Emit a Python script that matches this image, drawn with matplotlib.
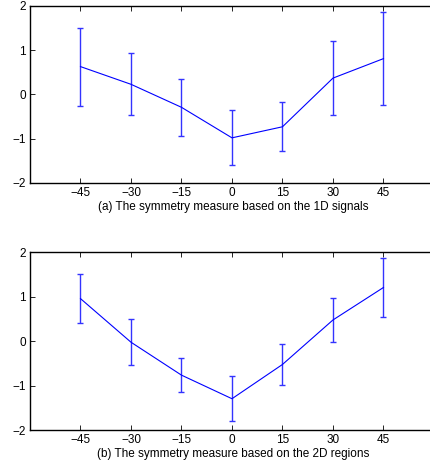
import matplotlib
matplotlib.use("Agg")
import matplotlib.pyplot as plt

angles = [-45, -30, -15, 0, 15, 30, 45]
mean_1d = [0.63, 0.23, -0.29, -0.98, -0.73, 0.37, 0.81]
err_1d = [0.88, 0.70, 0.65, 0.62, 0.55, 0.83, 1.05]
mean_2d = [0.96, -0.02, -0.76, -1.29, -0.52, 0.48, 1.21]
err_2d = [0.55, 0.52, 0.39, 0.51, 0.47, 0.50, 0.66]
yticks = [-2, -1, 0, 1, 2]
captions = ["(a) The symmetry measure based on the 1D signals",
            "(b) The symmetry measure based on the 2D regions"]

plt.rcParams['font.family'] = ['Liberation Sans', 'DejaVu Sans']
fig = plt.figure(figsize=(4.31, 4.63), dpi=100)
ax1 = fig.add_axes([0.0696, 0.6048, 0.9435, 0.3823])
ax2 = fig.add_axes([0.0696, 0.0706, 0.9435, 0.3844])

for ax, m, e, cap in [(ax1, mean_1d, err_1d, captions[0]), (ax2, mean_2d, err_2d, captions[1])]:
    ax.errorbar(angles, m, yerr=e, color='#0000ff', ecolor='#3333ff', elinewidth=1.0,
                capsize=2.5, capthick=1.0, linewidth=0.8)
    ax.set_xlim(-60, 60.8)
    ax.set_ylim(-2, 2)
    ax.set_xticks(angles)
    ax.set_yticks(yticks)
    ax.tick_params(direction='in', length=3.5, width=0.6, labelsize=8.5, top=True, right=True, pad=3)
    for s in ax.spines.values():
        s.set_linewidth(1.0)
    ax.set_xlabel(cap, fontsize=8.5, labelpad=1)

fig.savefig("out.png", dpi=100)
